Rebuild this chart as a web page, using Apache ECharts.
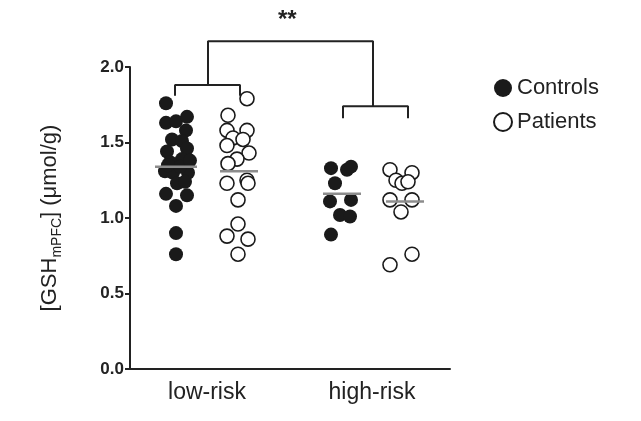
<!DOCTYPE html><html><head><meta charset="utf-8"><script src="https://cdn.jsdelivr.net/npm/echarts@6/dist/echarts.min.js"></script></head><body style="margin:0"><div id="c" style="width:641px;height:421px"></div><script>
const categories=['low-risk','high-risk'];
const catPos=[77,242];
const ctlLowX=[36,36,46,57,56,42,52,57,37,52,40,35,43,58,47,55,36,57,46,46,46,50,38,60];
const ctlLowY=[1.76,1.63,1.64,1.67,1.58,1.52,1.51,1.46,1.44,1.39,1.37,1.31,1.30,1.30,1.23,1.24,1.16,1.15,1.08,0.90,0.76,1.34,1.35,1.38];
const patLowX=[117,98,97,117,103,113,97,119,107,98,97,117,118,108,108,97,118,108];
const patLowY=[1.79,1.68,1.58,1.58,1.53,1.52,1.48,1.43,1.39,1.36,1.23,1.25,1.23,1.12,0.96,0.88,0.86,0.76];
const ctlHighX=[201,217,221,205,200,221,210,220,201];
const ctlHighY=[1.33,1.32,1.34,1.23,1.11,1.12,1.02,1.01,0.89];
const patHighX=[260,282,266,272,278,260,282,271,282,260];
const patHighY=[1.32,1.30,1.25,1.23,1.24,1.12,1.12,1.04,0.76,0.69];
const means=[[25,67,1.34],[90,128,1.31],[193,231,1.16],[256,294,1.11]];
const brackets=[[[45,1.81],[45,1.88],[110,1.88],[110,1.81]],[[213,1.66],[213,1.74],[278,1.74],[278,1.66]],[[78,1.88],[78,2.17],[243,2.17],[243,1.74]]];
const zip=(a,b)=>a.map((v,i)=>[v,b[i]]);
const series=[
{name:'Controls',type:'scatter',symbolSize:14,itemStyle:{color:'#1a1a1a',opacity:1},data:zip(ctlLowX,ctlLowY).concat(zip(ctlHighX,ctlHighY)),z:3},
{name:'Patients',type:'scatter',symbolSize:14,itemStyle:{color:'#fff',borderColor:'#1a1a1a',borderWidth:1.6,opacity:1},data:zip(patLowX,patLowY).concat(zip(patHighX,patHighY)),z:3}];
means.forEach(m=>series.push({type:'line',symbol:'none',silent:true,z:5,lineStyle:{color:'#8c8c8c',width:2.5},data:[[m[0],m[2]],[m[1],m[2]]]}));
brackets.forEach(b=>series.push({type:'line',symbol:'none',clip:false,silent:true,lineStyle:{color:'#222',width:2},data:b}));
const chart=echarts.init(document.getElementById('c'));
chart.setOption({animation:false,
grid:{left:130,right:191,top:67,bottom:52},
legend:{orient:'vertical',left:488,top:72,itemGap:12,itemWidth:18,itemHeight:18,textStyle:{fontSize:22,color:'#222',fontFamily:'Liberation Sans'},data:[{name:'Controls',icon:'circle'},{name:'Patients',icon:'circle'}]},
xAxis:{type:'value',min:0,max:320,splitLine:{show:false},axisLine:{lineStyle:{color:'#222',width:2}},axisTick:{show:false},
 axisLabel:{customValues:catPos,formatter:v=>categories[catPos.indexOf(v)]||'',fontSize:23,color:'#222',margin:12,fontFamily:'Liberation Sans'}},
yAxis:{type:'value',min:0,max:2,interval:0.5,splitLine:{show:false},axisLine:{show:true,lineStyle:{color:'#222',width:2}},axisTick:{show:true,length:5,lineStyle:{width:2}},
 axisLabel:{formatter:v=>v.toFixed(1),fontSize:17,fontWeight:'bold',color:'#222',margin:6,fontFamily:'Liberation Sans'},
 name:'{a|[GSH}{s|mPFC}{a|] (μmol/g)}',nameLocation:'middle',nameGap:66,nameTextStyle:{rich:{a:{fontSize:22,color:'#222',fontFamily:'Liberation Sans'},s:{fontSize:14,color:'#222',verticalAlign:'bottom',padding:[14,0,0,0],fontFamily:'Liberation Sans'}}}},
graphic:[{type:'text',left:278,top:8,style:{text:'**',fontSize:24,fontWeight:'bold',fill:'#222',fontFamily:'Liberation Sans'}}],
series});
</script></body></html>
